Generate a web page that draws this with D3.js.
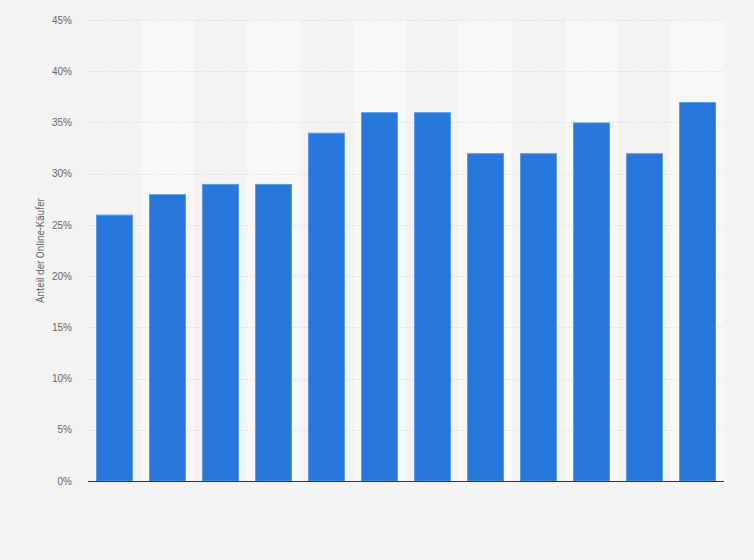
<!DOCTYPE html>
<html>
<head>
<meta charset="utf-8">
<script src="https://cdn.jsdelivr.net/npm/d3@7"></script>
<style>
  html, body { margin: 0; padding: 0; background: #f3f3f3; }
  svg { display: block; font-family: "Roboto", "Liberation Sans", Arial, sans-serif; }
</style>
</head>
<body>
<svg id="chart" width="754" height="560"></svg>
<script>
const categories = ["1", "2", "3", "4", "5", "6", "7", "8", "9", "10", "11", "12"];
const values = [26, 28, 29, 29, 34, 36, 36, 32, 32, 35, 32, 37];
const yTicks = [0, 5, 10, 15, 20, 25, 30, 35, 40, 45];
const yTitle = "Anteil der Online-Käufer";

const W = 754, H = 560;
const margin = { left: 88, right: 30, top: 20, bottom: 79 };
const svg = d3.select("#chart");
svg.append("rect").attr("width", W).attr("height", H).attr("fill", "#f3f3f3");

const x = d3.scaleBand().domain(categories).range([margin.left, W - margin.right]).paddingInner(0).paddingOuter(0);
const y = d3.scaleLinear().domain([0, 45]).range([H - margin.bottom, margin.top]);

// alternating bands
svg.append("g").selectAll("rect").data(categories).join("rect")
  .attr("x", d => x(d)).attr("width", x.bandwidth())
  .attr("y", y(45)).attr("height", y(0) - y(45))
  .attr("fill", (d, i) => i % 2 === 1 ? "#f8f8f8" : "#f3f3f3");

// grid lines
svg.append("g").selectAll("line").data(yTicks.filter(t => t > 0)).join("line")
  .attr("x1", margin.left).attr("x2", W - margin.right)
  .attr("y1", d => Math.round(y(d)) + 0.5).attr("y2", d => Math.round(y(d)) + 0.5)
  .attr("stroke", "#d2d2d2").attr("stroke-width", 1).attr("stroke-dasharray", "1,2");

// y axis labels
const yAxis = d3.axisLeft(y).tickValues(yTicks).tickFormat(d => d + "%").tickSize(0).tickPadding(16);
const ya = svg.append("g").attr("transform", `translate(${margin.left},0)`).call(yAxis);
ya.select(".domain").remove();
ya.selectAll("text").attr("fill", "#666").style("font-size", "10px");

// bars
const bw = 37;
svg.append("g").selectAll("rect").data(values).join("rect")
  .attr("x", (d, i) => x(categories[i]) + (x.bandwidth() - bw) / 2 + 0.5)
  .attr("width", bw - 1)
  .attr("y", d => y(d) + 0.5)
  .attr("height", d => y(0) - y(d) - 0.5)
  .attr("fill", "#2776db")
  .attr("stroke", "#5b9be8").attr("stroke-width", 1);

// baseline
svg.append("line")
  .attr("x1", margin.left).attr("x2", W - margin.right)
  .attr("y1", y(0) + 0.5).attr("y2", y(0) + 0.5)
  .attr("stroke", "#333").attr("stroke-width", 1.2);

// y title
svg.append("text")
  .attr("transform", `translate(44,${(y(0) + y(45)) / 2}) rotate(-90)`)
  .attr("text-anchor", "middle")
  .attr("fill", "#666").style("font-size", "10px")
  .text(yTitle);
</script>
</body>
</html>
